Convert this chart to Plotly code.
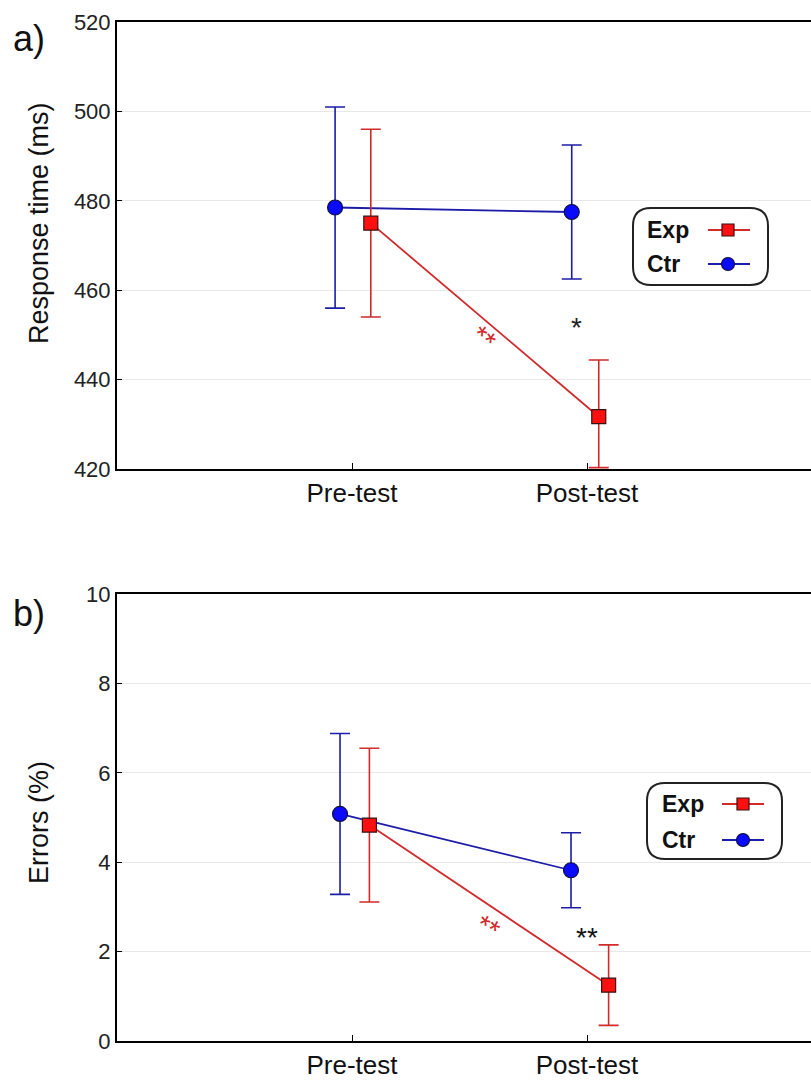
import plotly.graph_objects as go
from plotly.subplots import make_subplots

# ---- data ----
phases = ["Pre-test", "Post-test"]
rt_exp = [475.0, 431.7]
rt_exp_up = [21.0, 12.7]
rt_exp_dn = [21.0, 11.4]
rt_ctr = [478.5, 477.5]
rt_ctr_up = [22.5, 15.0]
rt_ctr_dn = [22.5, 15.0]
err_exp = [4.83, 1.25]
err_exp_up = [1.72, 0.90]
err_exp_dn = [1.72, 0.90]
err_ctr = [5.08, 3.82]
err_ctr_up = [1.80, 0.84]
err_ctr_dn = [1.80, 0.84]
rt_ticks = [420, 440, 460, 480, 500, 520]
err_ticks = [0, 2, 4, 6, 8, 10]

# ---- style ----
# the original frame runs past the right edge of the 811px page; draw it 822 wide and crop
W, H = 822, 1080
L, R, T, B = 117, 0, 22, 39
PW, PH = W - L - R, H - T - B
FONT = "Liberation Sans, Arial, sans-serif"
RED_LINE = "#d02a2a"
RED_FILL = "#ff1010"
BLUE_LINE = "#1c1ca8"
BLUE_FILL = "#0a0aff"

def px(x):
    return (x - L) / PW

def py(y):
    return (H - B - y) / PH

dom_a = [py(469), py(22)]
dom_b = [py(1041), py(594)]

fig = make_subplots(rows=2, cols=1)

base = [0, 1]
offs = {
    "a_exp": [0.08, 0.05], "a_ctr": [-0.072, -0.065],
    "b_exp": [0.074, 0.092], "b_ctr": [-0.051, -0.068],
}

def add(row, vals, up, dn, off, line, fill, symbol, size):
    fig.add_trace(go.Scatter(
        x=[b + o for b, o in zip(base, off)], y=vals, mode="lines+markers",
        line=dict(color=line, width=1.8), cliponaxis=False,
        marker=dict(symbol=symbol, size=size, color=fill,
                    line=dict(color="#3a1010" if symbol == "square" else "#101040", width=1.2)),
        error_y=dict(type="data", symmetric=False, array=up, arrayminus=dn, visible=True,
                     color=line, thickness=1.6, width=10),
        showlegend=False), row=row, col=1)

add(1, rt_ctr, rt_ctr_up, rt_ctr_dn, offs["a_ctr"], BLUE_LINE, BLUE_FILL, "circle", 15)
add(1, rt_exp, rt_exp_up, rt_exp_dn, offs["a_exp"], RED_LINE, RED_FILL, "square", 14)
add(2, err_ctr, err_ctr_up, err_ctr_dn, offs["b_ctr"], BLUE_LINE, BLUE_FILL, "circle", 15)
add(2, err_exp, err_exp_up, err_exp_dn, offs["b_exp"], RED_LINE, RED_FILL, "square", 14)

xr = [-1, 2]
xcommon = dict(range=xr, tickvals=base, ticktext=phases, ticks="inside", ticklen=6,
               tickcolor="black", showline=True, linecolor="black", linewidth=2,
               mirror=True, showgrid=False, zeroline=False,
               tickfont=dict(family=FONT, size=26, color="#111"))
ycommon = dict(ticks="inside", ticklen=5, tickcolor="black", showline=True, linecolor="black",
               linewidth=2, mirror=False, showgrid=True, gridcolor="#e8e8e8", gridwidth=1,
               zeroline=False, tickfont=dict(family=FONT, size=22, color="#222"))

fig.update_layout(
    width=W, height=H, margin=dict(l=L, r=R, t=T, b=B),
    plot_bgcolor="white", paper_bgcolor="white",
    xaxis=dict(domain=[0, 1], **xcommon),
    xaxis2=dict(domain=[0, 1], **xcommon),
    yaxis=dict(domain=dom_a, range=[420, 520], tickvals=rt_ticks, **ycommon),
    yaxis2=dict(domain=dom_b, range=[0, 10], tickvals=err_ticks, **ycommon),
)

ann = []
def text(x, y, s, size, color="#111", bold=False, xanchor="center", angle=0):
    ann.append(dict(x=x, y=y, xref="paper", yref="paper", text=("<b>%s</b>" % s) if bold else s,
                    showarrow=False, xanchor=xanchor, yanchor="middle", textangle=angle,
                    font=dict(family=FONT, size=size, color=color)))

text(px(29), py(38), "a)", 36)
text(px(29), py(613), "b)", 36)
text(px(39), py(223), "Response time (ms)", 27, angle=-90)
text(px(39), py(823), "Errors (%)", 27, angle=-90)

# significance marks
text(px(484), py(338), "**", 28, color=RED_LINE, angle=38)
text(px(576), py(328), "*", 28, color="#222")
text(px(488), py(927), "**", 28, color=RED_LINE, angle=30)
text(px(587), py(937), "**", 28, color="#111")

shapes = []

def rounded(x0, y0, x1, y1, r):
    pts = ("M {a},{b} L {c},{b} Q {d},{b} {d},{e} L {d},{f} Q {d},{g} {c},{g} "
           "L {a},{g} Q {h},{g} {h},{f} L {h},{e} Q {h},{b} {a},{b} Z")
    return pts.format(a=px(x0 + r), b=py(y0), c=px(x1 - r), d=px(x1), e=py(y0 + r),
                      f=py(y1 - r), g=py(y1), h=px(x0))

def legend(x0, y0, x1, y1, ty1, ty2, tx, lx0, lx1, mx):
    shapes.append(dict(type="path", xref="paper", yref="paper", path=rounded(x0, y0, x1, y1, 18),
                       line=dict(color="#222", width=2), fillcolor="white"))
    text(px(tx), py(ty1), "Exp", 23, bold=True, xanchor="left")
    text(px(tx), py(ty2), "Ctr", 23, bold=True, xanchor="left")
    shapes.append(dict(type="line", xref="paper", yref="paper", x0=px(lx0), x1=px(lx1),
                       y0=py(ty1), y1=py(ty1), line=dict(color=RED_LINE, width=1.8)))
    shapes.append(dict(type="line", xref="paper", yref="paper", x0=px(lx0), x1=px(lx1),
                       y0=py(ty2), y1=py(ty2), line=dict(color=BLUE_LINE, width=1.8)))
    s = 6
    shapes.append(dict(type="rect", xref="paper", yref="paper", x0=px(mx - s), x1=px(mx + s),
                       y0=py(ty1 + s), y1=py(ty1 - s), fillcolor=RED_FILL,
                       line=dict(color="#3a1010", width=1.2)))
    c = 6.5
    shapes.append(dict(type="circle", xref="paper", yref="paper", x0=px(mx - c), x1=px(mx + c),
                       y0=py(ty2 + c), y1=py(ty2 - c), fillcolor=BLUE_FILL,
                       line=dict(color="#101040", width=1.2)))

legend(633, 208, 768, 285, 230, 264, 645, 708, 750, 728)
legend(647, 783, 782, 859, 804, 840, 660, 722, 764, 743)

fig.update_layout(annotations=ann, shapes=shapes)
fig.write_html("out.html", config={"displayModeBar": False},
               post_script="document.body.style.margin='0';document.body.style.overflow='hidden';"
                           "document.documentElement.style.overflow='hidden';")
